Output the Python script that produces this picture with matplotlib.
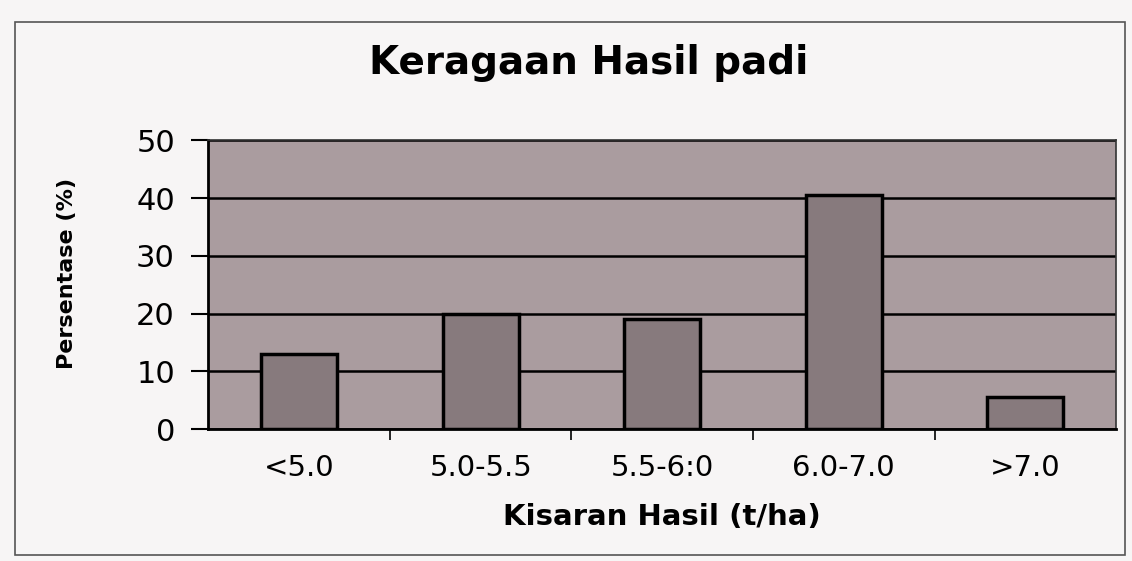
import matplotlib.pyplot as plt
import numpy as np
from matplotlib.patches import Rectangle

kategori = ['<5.0', '5.0-5.5', '5.5-6:0', '6.0-7.0', '>7.0']
persen = [13, 20, 19, 40.5, 5.5]
y_ticks = [0, 10, 20, 30, 40, 50]

# DejaVu is wider than Arial, closer to the stretched scan lettering
plt.rcParams['font.family'] = ['DejaVu Sans']

fig = plt.figure(figsize=(11.32, 5.61), dpi=100)
fig.patch.set_facecolor('#f7f5f5')
ax = fig.add_axes([0.184, 0.235, 0.802, 0.515])

# frame round the whole chart (as in the scan)
fig.patches.append(Rectangle((0.013, 0.01), 0.981, 0.95, transform=fig.transFigure,
                             fill=False, edgecolor='#555555', linewidth=1.2))

x = np.arange(len(kategori))
ax.set_facecolor('#aa9c9f')
ax.bar(x, persen, width=0.42, color='#877a7d', edgecolor='black', linewidth=2.5, zorder=3)

ax.set_xlim(-0.5, len(kategori) - 0.5)
ax.set_ylim(0, 50)
ax.set_yticks(y_ticks)
ax.set_yticklabels([str(v) for v in y_ticks], fontsize=22)
ax.yaxis.grid(True, color='black', linewidth=1.8, zorder=1)
ax.set_axisbelow(True)

ax.set_xticks(x)
ax.set_xticklabels(kategori, fontsize=21)
ax.set_xticks(np.arange(0.5, len(kategori) - 0.5, 1.0), minor=True)
ax.tick_params(axis='x', which='major', length=0, pad=18)
ax.tick_params(axis='x', which='minor', length=8, width=1.2, direction='out')
ax.tick_params(axis='y', length=12, width=1.5, pad=12)

for side in ['top', 'right']:
    ax.spines[side].set_linewidth(1.2)
    ax.spines[side].set_color('#333333')
ax.spines['left'].set_linewidth(2)
ax.spines['bottom'].set_linewidth(2)

ax.set_xlabel('Kisaran Hasil (t/ha)', fontsize=21, fontweight='bold', labelpad=15)
ax.set_ylabel('Persentase (%)', fontsize=16, fontweight='heavy', labelpad=36)
ax.yaxis.set_label_coords(-0.145, 0.54)
fig.text(0.52, 0.888, 'Keragaan Hasil padi', ha='center', va='center',
         fontsize=28, fontweight='bold')

fig.savefig('out.png', dpi=100)
